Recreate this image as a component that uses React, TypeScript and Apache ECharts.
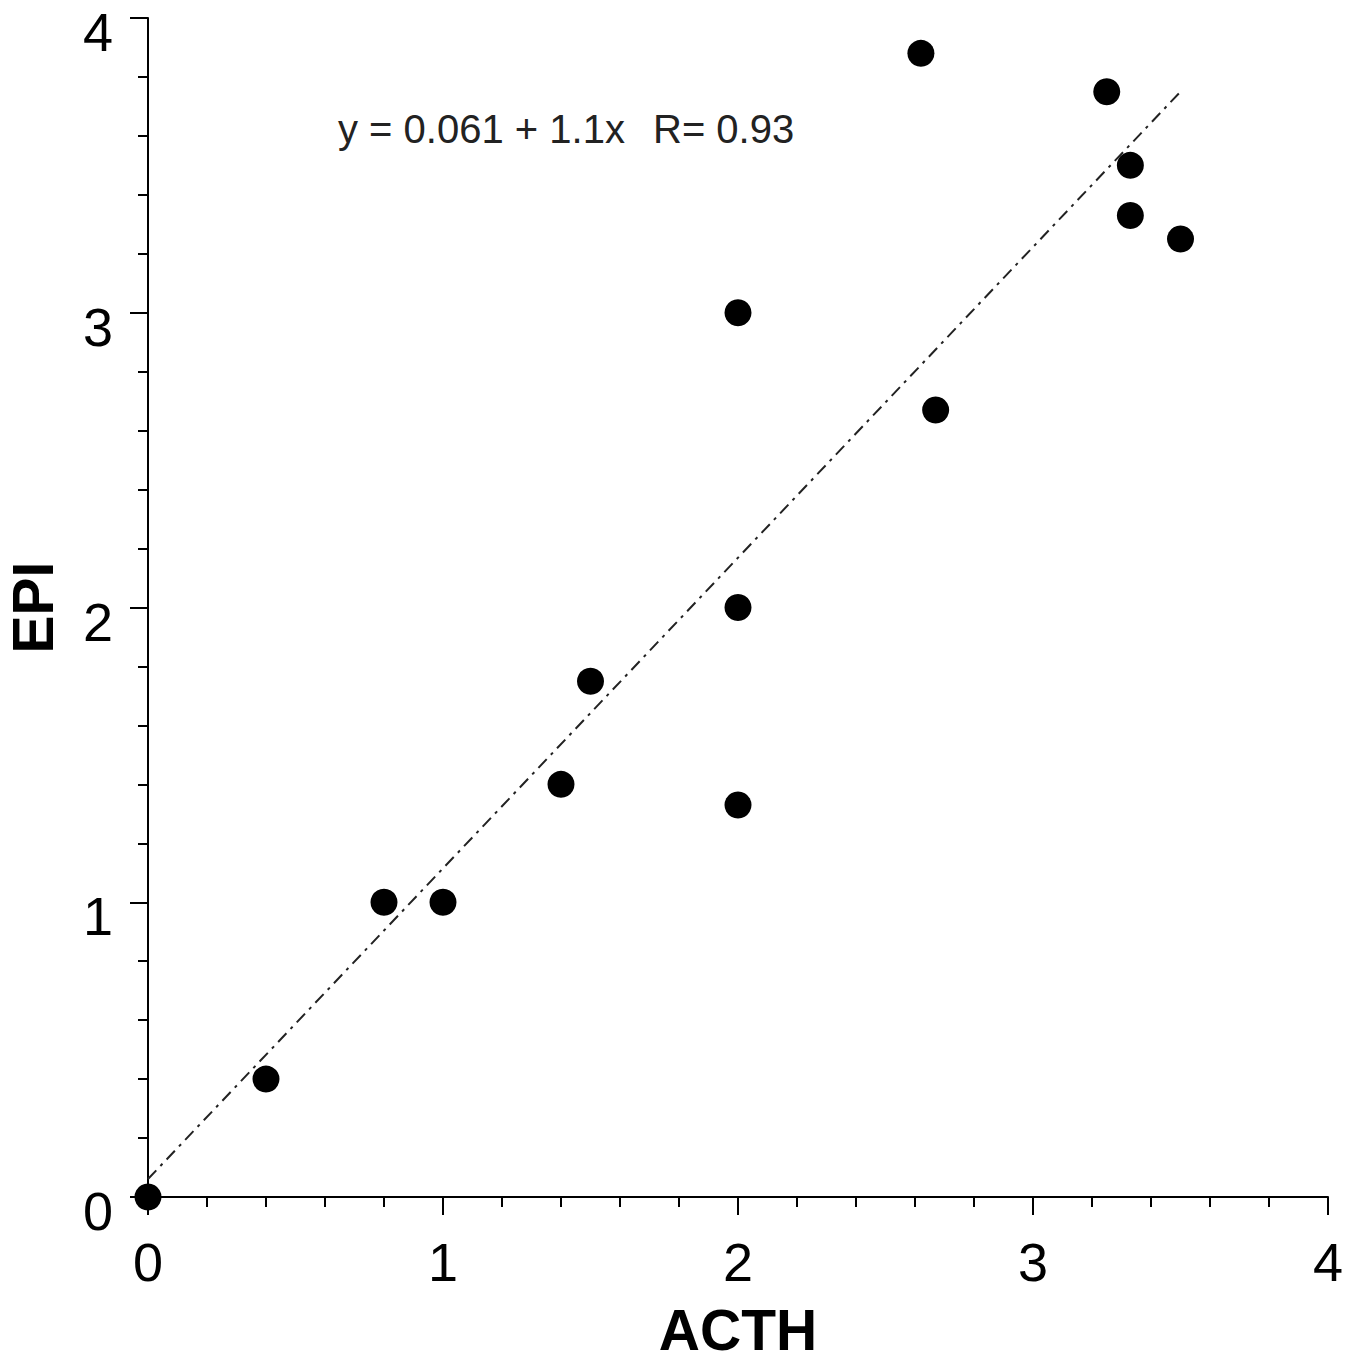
import React, { useEffect, useRef } from "react";
import * as echarts from "echarts";

const acth = [0, 0.4, 0.8, 1.0, 1.4, 1.5, 2.0, 2.0, 2.0, 2.67, 2.62, 3.25, 3.33, 3.33, 3.5];
const epi = [0, 0.4, 1.0, 1.0, 1.4, 1.75, 1.33, 2.0, 3.0, 2.67, 3.88, 3.75, 3.5, 3.33, 3.25];
const fitX = [0, 3.5];
const fitY = [0.061, 3.75];
const equationText = "y = 0.061 + 1.1x";
const rText = "R= 0.93";
const xName = "ACTH";
const yName = "EPI";

const FONT = "'Liberation Sans', Arial, sans-serif";

export default function App() {
  const ref = useRef<HTMLDivElement>(null);
  useEffect(() => {
    const chart = echarts.init(ref.current!, undefined, { renderer: "svg" });
    const axisCommon = {
      type: "value" as const,
      min: 0,
      max: 4,
      interval: 1,
      axisLine: { show: true, lineStyle: { color: "#000", width: 2 } },
      axisTick: { show: true, inside: false, length: 18, lineStyle: { color: "#000", width: 2 } },
      minorTick: { show: true, splitNumber: 5, length: 10, lineStyle: { color: "#000", width: 2 } },
      splitLine: { show: false },
      minorSplitLine: { show: false },
      nameLocation: "middle" as const,
    };
    chart.setOption({
      animation: false,
      backgroundColor: "#fff",
      grid: {
        left: 148,
        right: 27,
        top: 18,
        bottom: 164,
        containLabel: false,
        outerBoundsMode: "none",
      },
      xAxis: {
        ...axisCommon,
        name: xName,
        nameGap: 111,
        nameTextStyle: {
          fontSize: 57,
          fontWeight: "bold",
          color: "#000",
          fontFamily: FONT,
          lineHeight: 44,
        },
        axisLabel: { fontSize: 54, margin: 38, color: "#000", fontFamily: FONT },
      },
      yAxis: {
        ...axisCommon,
        name: yName,
        nameGap: 87,
        nameTextStyle: { fontSize: 57, fontWeight: "bold", color: "#000", fontFamily: FONT },
        axisLabel: {
          fontSize: 54,
          margin: 35,
          color: "#000",
          fontFamily: FONT,
          verticalAlign: "top",
          lineHeight: 28,
        },
      },
      graphic: [
        {
          type: "text",
          left: 338,
          top: 109,
          style: { text: equationText, fontSize: 40, fill: "#222", fontFamily: FONT },
        },
        {
          type: "text",
          left: 653,
          top: 109,
          style: { text: rText, fontSize: 40, fill: "#222", fontFamily: FONT },
        },
      ],
      series: [
        {
          type: "line",
          data: fitX.map((x, i) => [x, fitY[i]]),
          showSymbol: false,
          symbol: "none",
          lineStyle: { color: "#222", width: 2, type: [12, 6, 3, 6] },
          z: 1,
        },
        {
          type: "scatter",
          data: acth.map((x, i) => [x, epi[i]]),
          symbol: "circle",
          symbolSize: 27,
          itemStyle: { color: "#000", opacity: 1 },
          clip: false,
          z: 3,
        },
      ],
    });
    return () => chart.dispose();
  }, []);
  return (
    <div
      ref={ref}
      style={{ position: "fixed", left: 0, top: 0, width: 1355, height: 1361, background: "#fff" }}
    />
  );
}
